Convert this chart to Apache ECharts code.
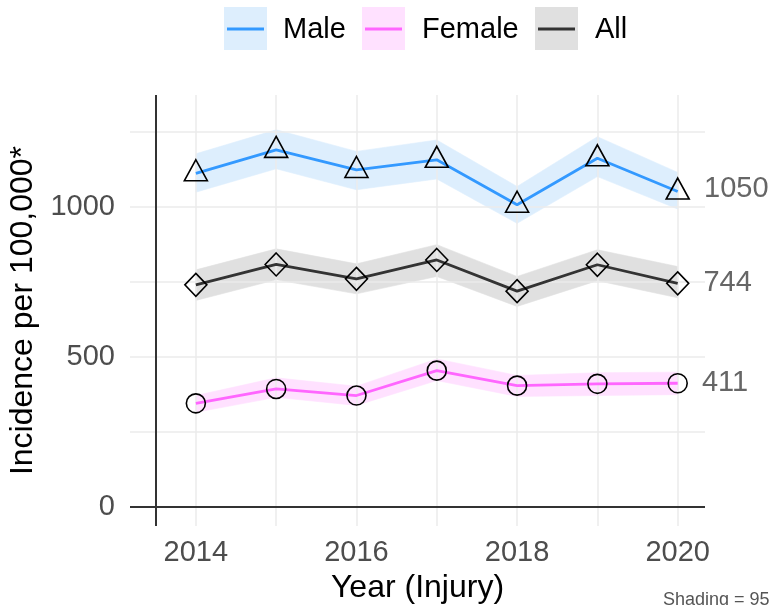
<!DOCTYPE html>
<html>
<head>
<meta charset="utf-8">
<script src="https://cdn.jsdelivr.net/npm/echarts@6/dist/echarts.min.js"></script>
<style>
html,body{margin:0;padding:0;background:#fff;}
#c{width:769px;height:605px;}
</style>
</head>
<body>
<div id="c"></div>
<script>
var years = [2014, 2015, 2016, 2017, 2018, 2019, 2020];
var male = [1111, 1189, 1122, 1156, 1006, 1161, 1050];
var maleLo = [1048, 1126, 1056, 1092, 944, 1100, 992];
var maleHi = [1176, 1256, 1184, 1222, 1067, 1233, 1114];
var allV = [739, 807, 759, 822, 718, 806, 744];
var allLo = [687, 756, 709, 767, 667, 753, 696];
var allHi = [789, 859, 809, 873, 767, 856, 800];
var female = [344, 392, 370, 453, 403, 409, 411];
var femaleLo = [314, 364, 337, 420, 367, 370, 373];
var femaleHi = [370, 429, 401, 492, 437, 446, 448];
var xTicks = [2014, 2016, 2018, 2020];
var yTicks = [0, 500, 1000];
var xGrid = [2014, 2015, 2016, 2017, 2018, 2019, 2020];
var yGrid = [250, 500, 750, 1000, 1250];

var FONT = 'Liberation Sans';
var groups = [
  {name: 'Male', v: male, lo: maleLo, hi: maleHi, line: '#3399FF', band: '#DDEEFD', sym: 'triangle', size: [23, 21], off: [0, -3]},
  {name: 'Female', v: female, lo: femaleLo, hi: femaleHi, line: '#FF66FF', band: '#FFE1FF', sym: 'circle', size: 19, off: [0, 0]},
  {name: 'All', v: allV, lo: allLo, hi: allHi, line: '#333333', band: '#E0E0E0', sym: 'diamond', size: [22, 23], off: [0, 0]}
];

function pairs(a) { return years.map(function (y, i) { return [y, a[i]]; }); }

var series = [];
// grid lines
series.push({
  type: 'line', data: [], silent: true, z: 1,
  markLine: {
    silent: true, symbol: 'none', label: {show: false}, animation: false,
    lineStyle: {color: '#EBEBEB', width: 1.5, type: 'solid'},
    data: xGrid.map(function (x) { return {xAxis: x}; }).concat(yGrid.map(function (y) { return {yAxis: y}; }))
  }
});
// confidence bands
groups.forEach(function (g) {
  var segs = [];
  for (var i = 0; i < years.length - 1; i++) {
    segs.push([years[i], g.lo[i], g.hi[i], years[i + 1], g.lo[i + 1], g.hi[i + 1]]);
  }
  series.push({
    type: 'custom', name: g.name + ' band', silent: true, z: 2,
    encode: {x: [0, 3], y: [1, 2, 4, 5]},
    data: segs,
    renderItem: function (params, api) {
      var a = api.coord([api.value(0), api.value(1)]);
      var b = api.coord([api.value(3), api.value(4)]);
      var c = api.coord([api.value(3), api.value(5)]);
      var d = api.coord([api.value(0), api.value(2)]);
      return {
        type: 'polygon',
        shape: {points: [a, b, c, d]},
        style: {fill: g.band, stroke: g.band, lineWidth: 0.6}
      };
    }
  });
});
// axes reference lines
series.push({
  type: 'line', data: [], silent: true, z: 3,
  markLine: {
    silent: true, symbol: 'none', label: {show: false}, animation: false,
    lineStyle: {color: '#333333', width: 2, type: 'solid'},
    data: [{xAxis: 2013.5}, {yAxis: 0}]
  }
});
groups.forEach(function (g) {
  var d = pairs(g.v).map(function (p, i) {
    if (i === years.length - 1) {
      return {value: p, label: {show: true}};
    }
    return p;
  });
  series.push({
    type: 'line', name: g.name, data: d, z: 5,
    lineStyle: {color: g.line, width: 2.8},
    itemStyle: {color: 'rgba(0,0,0,0)', borderColor: '#000', borderWidth: 1.6},
    symbol: g.sym, symbolSize: g.size, symbolOffset: g.off, showAllSymbol: true,
    label: {
      show: false, position: 'right', distance: 14,
      formatter: function (p) { return String(p.value[1]); },
      color: '#666666', fontSize: 29, fontFamily: FONT
    }
  });
});

var legendItems = [
  {name: 'Male', x: 224, tx: 283, line: '#3399FF', band: '#DDEEFD'},
  {name: 'Female', x: 362, tx: 422, line: '#FF66FF', band: '#FFE1FF'},
  {name: 'All', x: 535, tx: 595, line: '#333333', band: '#E0E0E0'}
];
var graphics = [];
legendItems.forEach(function (l) {
  graphics.push({type: 'rect', left: l.x, top: 7, shape: {width: 43, height: 43}, style: {fill: l.band}, silent: true});
  graphics.push({type: 'line', shape: {x1: l.x + 3, y1: 29, x2: l.x + 40, y2: 29}, style: {stroke: l.line, lineWidth: 3}, silent: true});
  graphics.push({type: 'text', x: l.tx, y: 30, style: {text: l.name, fill: '#000', font: '29px "' + FONT + '"', verticalAlign: 'middle'}, silent: true});
});
graphics.push({type: 'text', x: 663, y: 591, style: {text: 'Shading = 95% CI', fill: '#555', font: '18px "' + FONT + '"', verticalAlign: 'top'}, silent: true});

var chart = echarts.init(document.getElementById('c'), null, {renderer: 'canvas'});
chart.setOption({
  animation: false,
  backgroundColor: '#fff',
  grid: {left: 130, right: 64, top: 95, bottom: 79, containLabel: false, outerBoundsMode: 'none'},
  xAxis: {
    type: 'value', min: 2013.18, max: 2020.34,
    axisLine: {show: false}, axisTick: {show: false}, splitLine: {show: false},
    axisLabel: {customValues: xTicks, formatter: function (v) { return String(v); }, color: '#4d4d4d', fontSize: 29, fontFamily: FONT, margin: 12},
    name: 'Year (Injury)', nameLocation: 'middle', nameGap: 45,
    nameTextStyle: {color: '#000', fontSize: 32, fontFamily: FONT}
  },
  yAxis: {
    type: 'value', min: -65, max: 1372,
    axisLine: {show: false}, axisTick: {show: false}, splitLine: {show: false},
    axisLabel: {customValues: yTicks, formatter: function (v) { return String(v); }, color: '#4d4d4d', fontSize: 29, fontFamily: FONT, margin: 15},
    name: 'Incidence per 100,000*', nameLocation: 'middle', nameGap: 68, nameRotate: 90,
    nameTextStyle: {color: '#000', fontSize: 32, fontFamily: FONT}
  },
  series: series,
  graphic: graphics
});
</script>
</body>
</html>
